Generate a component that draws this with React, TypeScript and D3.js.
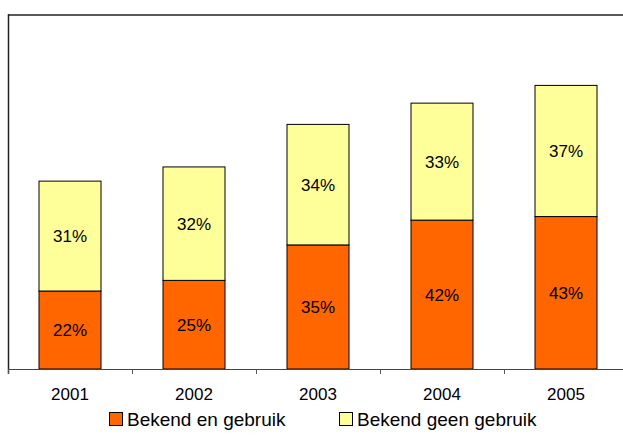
import React from "react";
import * as d3 from "d3";

const years = ["2001", "2002", "2003", "2004", "2005"];
const bekendEnGebruik = [22, 25, 35, 42, 43];
const bekendGeenGebruik = [31, 32, 34, 33, 37];
const seriesNames = ["Bekend en gebruik", "Bekend geen gebruik"];
const seriesColors = ["#FF6600", "#FFFF99"];

const W = 623;
const H = 437;
const left = 8;
const step = 124;
const top = 14.5;
const baseY = 369;

export default function App() {
  const x = d3
    .scaleBand<string>()
    .domain(years)
    .range([left, left + step * years.length])
    .paddingInner(0.5)
    .paddingOuter(0.25);
  const y = d3.scaleLinear().domain([0, 100]).range([baseY, top]);

  const rows = years.map((yr, i) => ({
    year: yr,
    a: bekendEnGebruik[i],
    b: bekendGeenGebruik[i],
  }));
  const stack = d3.stack<any>().keys(["a", "b"])(rows);

  const font = "'Liberation Sans', Arial, sans-serif";
  const boundaries = d3.range(years.length + 1).map((i) => left + i * step);

  return (
    <svg
      width={W}
      height={H}
      style={{ position: "absolute", left: 0, top: 0, background: "#fff" }}
      fontFamily={font}
    >
      {/* frame */}
      <line x1={left} x2={W} y1={15} y2={15} stroke="#5a5a5a" strokeWidth={2} />
      <line x1={left + 0.5} x2={left + 0.5} y1={14} y2={374} stroke="#222" strokeWidth={1.5} />
      {/* bars */}
      {stack.map((layer, si) =>
        layer.map((d: any, i: number) => {
          const x0 = x(years[i])!;
          const y0 = y(d[1]);
          const y1 = y(d[0]);
          const val = si === 0 ? bekendEnGebruik[i] : bekendGeenGebruik[i];
          return (
            <g key={`${si}-${i}`}>
              <rect
                x={x0}
                y={y0}
                width={x.bandwidth()}
                height={y1 - y0}
                fill={seriesColors[si]}
                stroke="#000"
                strokeWidth={1}
              />
              <text
                x={x0 + x.bandwidth() / 2}
                y={(y0 + y1) / 2}
                dy="0.35em"
                textAnchor="middle"
                fontSize={17}
                fill="#000"
              >
                {val}%
              </text>
            </g>
          );
        })
      )}
      {/* axis */}
      <line x1={left} x2={W} y1={baseY + 0.5} y2={baseY + 0.5} stroke="#444" strokeWidth={1.2} />
      {boundaries.map((bx, i) => (
        <line key={i} x1={bx + 0.5} x2={bx + 0.5} y1={baseY} y2={baseY + 5} stroke="#555" strokeWidth={1} />
      ))}
      {years.map((yr) => (
        <text
          key={yr}
          x={x(yr)! + x.bandwidth() / 2}
          y={400}
          textAnchor="middle"
          fontSize={17}
          fill="#000"
        >
          {yr}
        </text>
      ))}
      {/* legend */}
      {seriesNames.map((name, i) => {
        const lx = i === 0 ? 109 : 339;
        return (
          <g key={name}>
            <rect x={lx + 0.5} y={412.5} width={13} height={13} fill={seriesColors[i]} stroke="#000" strokeWidth={1} />
            <text x={lx + 18} y={425.5} fontSize={19} fill="#000">
              {name}
            </text>
          </g>
        );
      })}
    </svg>
  );
}
